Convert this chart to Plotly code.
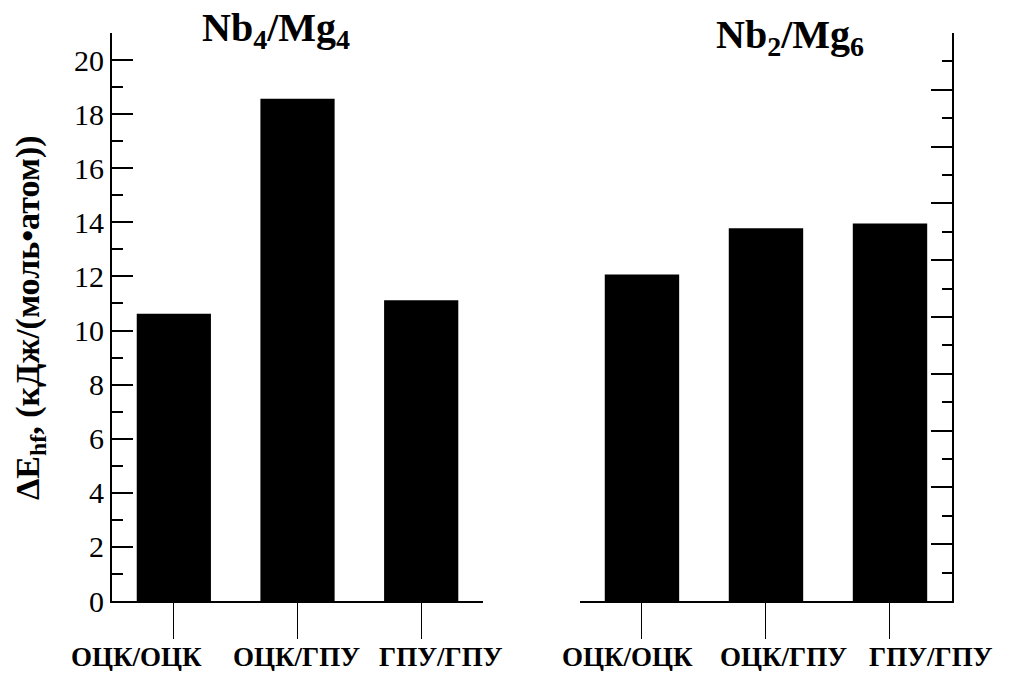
import plotly.graph_objects as go

categories = ["ОЦК/ОЦК", "ОЦК/ГПУ", "ГПУ/ГПУ"]
nb4mg4 = [10.62, 18.57, 11.12]
nb2mg6 = [12.07, 13.78, 13.96]
left_tick_step = 2
right_tick_step = 2.1

FONT = "Liberation Serif, Times New Roman, DejaVu Serif, serif"
INK = "black"

fig = go.Figure()
fig.add_trace(go.Bar(x=categories, y=nb4mg4, width=0.6, marker=dict(color=INK, line=dict(width=0)),
                     xaxis="x", yaxis="y"))
fig.add_trace(go.Bar(x=categories, y=nb2mg6, width=0.6, marker=dict(color=INK, line=dict(width=0)),
                     xaxis="x2", yaxis="y2"))

xcommon = dict(showline=True, linewidth=2, linecolor=INK, ticks="outside", ticklen=36,
               tickwidth=1.3, tickcolor=INK, range=[-0.5, 2.5], showgrid=False, zeroline=False,
               showticklabels=False)

# category label centres (screen pixels) — labels are spread wider than the tick marks in the reference
label_px_left = [136, 296, 441]
label_px_right = [627, 783, 931]

annotations = []
for cat, px in list(zip(categories, label_px_left)) + list(zip(categories, label_px_right)):
    annotations.append(dict(text="<b>" + cat + "</b>", xref="paper", yref="paper",
                            x=(px - 112) / 840, y=(601 - 657) / 568, xanchor="center", yanchor="middle",
                            showarrow=False, font=dict(family=FONT, size=27, color=INK)))

annotations += [
    dict(text="<b>Nb<sub>4</sub>/Mg<sub>4</sub></b>", xref="paper", yref="paper",
         x=(276 - 112) / 840, y=(601 - 30) / 568, xanchor="center", yanchor="middle",
         showarrow=False, font=dict(family=FONT, size=40, color=INK)),
    dict(text="<b>Nb<sub>2</sub>/Mg<sub>6</sub></b>", xref="paper", yref="paper",
         x=(790 - 112) / 840, y=(601 - 37) / 568, xanchor="center", yanchor="middle",
         showarrow=False, font=dict(family=FONT, size=40, color=INK)),
    dict(text="<b>ΔE<sub>hf</sub>, (кДж/(моль•атом))</b>", xref="paper", yref="paper",
         x=(30 - 112) / 840, y=(601 - 318) / 568, xanchor="center", yanchor="middle",
         textangle=-90, showarrow=False, font=dict(family=FONT, size=34, color=INK)),
]

# page body has an 8px default margin: figure is sized/offset to compensate
fig.update_layout(
    template="none",
    width=995, height=663, showlegend=False,
    margin=dict(l=104, r=51, t=25, b=70),
    font=dict(family=FONT, color=INK),
    xaxis=dict(domain=[0, 0.4417], anchor="y", **xcommon),
    xaxis2=dict(domain=[0.5571, 1.0], anchor="y2", **xcommon),
    yaxis=dict(domain=[0, 1], anchor="x", range=[0, 21], showline=True, linewidth=2, linecolor=INK,
               ticks="inside", ticklen=21, tickwidth=2, tickcolor=INK,
               tickmode="linear", tick0=0, dtick=left_tick_step, showgrid=False, zeroline=False,
               tickfont=dict(family=FONT, size=30, color=INK),
               minor=dict(ticks="inside", ticklen=11, tickwidth=2, tickcolor=INK,
                          tickmode="linear", tick0=0, dtick=left_tick_step / 2, showgrid=False)),
    yaxis2=dict(domain=[0, 1], anchor="x2", side="right", range=[0, 21], showline=True, linewidth=2,
                linecolor=INK, ticks="inside", ticklen=21, tickwidth=2, tickcolor=INK,
                tickmode="linear", tick0=0, dtick=right_tick_step, showticklabels=False,
                showgrid=False, zeroline=False,
                minor=dict(ticks="inside", ticklen=10, tickwidth=2, tickcolor=INK,
                           tickmode="linear", tick0=0, dtick=right_tick_step / 2, showgrid=False)),
    annotations=annotations,
)

fig.write_html("out.html")
